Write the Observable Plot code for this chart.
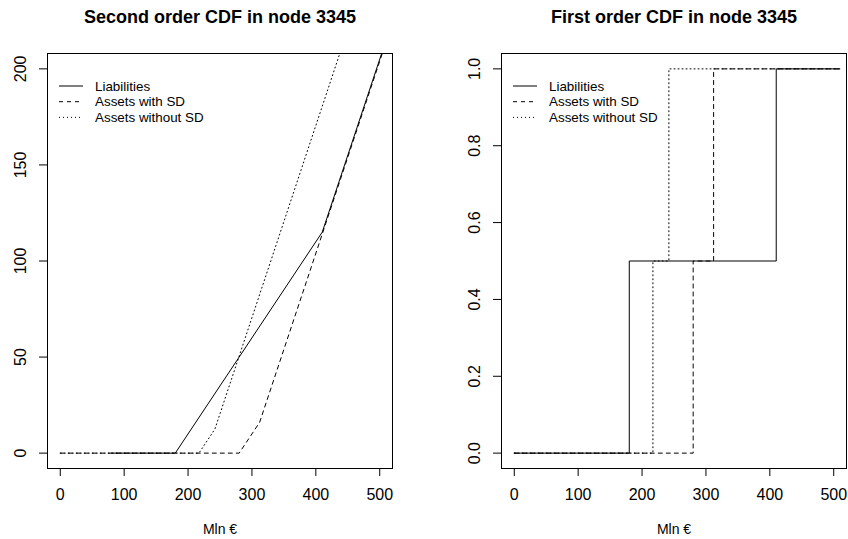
<!DOCTYPE html>
<html><head><meta charset="utf-8">
<script src="https://cdn.jsdelivr.net/npm/d3@7"></script>
<script src="https://cdn.jsdelivr.net/npm/@observablehq/plot@0.6"></script>
<style>
body{margin:0;background:#fff;}
#wrap{position:relative;width:848px;height:539px;display:flex;font-family:"Liberation Sans",Arial,Helvetica,sans-serif;background:#fff;}
#legend{position:absolute;left:0;top:0;pointer-events:none;}
</style></head><body><div id="wrap"></div>
<script>
// ---- data ----
const seriesNames = ["Liabilities", "Assets with SD", "Assets without SD"];
const seriesDash = [null, "4,4", "1,3"];
const xTicks = [0, 100, 200, 300, 400, 500];
const soTicks = [0, 50, 100, 150, 200];
const foTicks = [0, 0.2, 0.4, 0.6, 0.8, 1.0];

// Second order CDF (breakpoints)
const soLiabX = [80, 180, 410, 510];
const soLiabY = [0, 0, 115, 215];
const soWithX = [0, 280, 312, 410, 510];
const soWithY = [0, 0, 16, 114, 214];
const soWithoutX = [0, 217, 242, 510];
const soWithoutY = [0, 0, 12.5, 280.5];

// First order CDF (step breakpoints)
const foLiabX = [0, 180, 410, 510];
const foLiabY = [0, 0.5, 1, 1];
const foWithX = [0, 280, 312, 510];
const foWithY = [0, 0.5, 1, 1];
const foWithoutX = [0, 217, 242, 510];
const foWithoutY = [0, 0.5, 1, 1];

const FONT = '"Liberation Sans", Arial, Helvetica, sans-serif';
const zip = (xs, ys) => xs.map((x, i) => ({x, y: ys[i]}));

function panel({title, yDomain, yTicks, yFmt, series, curve, marginLeft, marginRight}) {
  return Plot.plot({
    width: 424, height: 539,
    marginTop: 53, marginBottom: 71, marginLeft, marginRight,
    x: {domain: [-20, 520]},
    y: {domain: yDomain},
    style: {fontFamily: FONT, fontSize: "16px", background: "white", color: "black", overflow: "visible"},
    marks: [
      ...series.map((s, i) => Plot.line(s, {
        x: "x", y: "y", curve, clip: true, stroke: "black", strokeWidth: 1,
        strokeDasharray: seriesDash[i] ?? undefined
      })),
      Plot.frame({stroke: "black", strokeWidth: 1}),
      Plot.axisX({ticks: xTicks, tickSize: 8, tickPadding: 12, label: null, tickFormat: d3.format("d"), fontSize: 16}),
      Plot.axisY({ticks: yTicks, tickSize: 8, fill: "none", label: null}),
      Plot.text(yTicks, {y: d => d, text: yFmt, frameAnchor: "left", dx: -27, rotate: -90, fontSize: 16, textAnchor: "middle", lineAnchor: "middle"}),
      Plot.text([title], {text: d => d, frameAnchor: "top", dy: -36, lineAnchor: "middle", fontWeight: "bold", fontSize: 18}),
      Plot.text(["Mln €"], {text: d => d, frameAnchor: "bottom", dy: 61, lineAnchor: "middle", fontSize: 14})
    ]
  });
}

const wrap = document.getElementById("wrap");
wrap.appendChild(panel({
  title: "Second order CDF in node 3345",
  yDomain: [-8, 208], yTicks: soTicks, yFmt: d3.format("d"),
  series: [zip(soLiabX, soLiabY), zip(soWithX, soWithY), zip(soWithoutX, soWithoutY)],
  curve: "linear", marginLeft: 47, marginRight: 32
}));
wrap.appendChild(panel({
  title: "First order CDF in node 3345",
  yDomain: [-0.04, 1.04], yTicks: foTicks, yFmt: d3.format(".1f"),
  series: [zip(foLiabX, foLiabY), zip(foWithX, foWithY), zip(foWithoutX, foWithoutY)],
  curve: "step-after", marginLeft: 77, marginRight: 2
}));

// legends (inside each panel, top-left, no box)
const leg = d3.select(wrap).append("svg").attr("id", "legend")
  .attr("width", 848).attr("height", 539);
const legendPos = [{x: 59, y: 86}, {x: 513, y: 86}];
legendPos.forEach(p => {
  seriesNames.forEach((name, i) => {
    const yy = p.y + i * 15.7;
    leg.append("line").attr("x1", p.x).attr("x2", p.x + 24)
      .attr("y1", yy).attr("y2", yy).attr("stroke", "black").attr("stroke-width", 1)
      .attr("stroke-dasharray", seriesDash[i]);
    leg.append("text").attr("x", p.x + 36).attr("y", yy).attr("dy", "0.35em")
      .attr("font-family", FONT).attr("font-size", 13.4).attr("fill", "black").text(name);
  });
});
</script></body></html>
